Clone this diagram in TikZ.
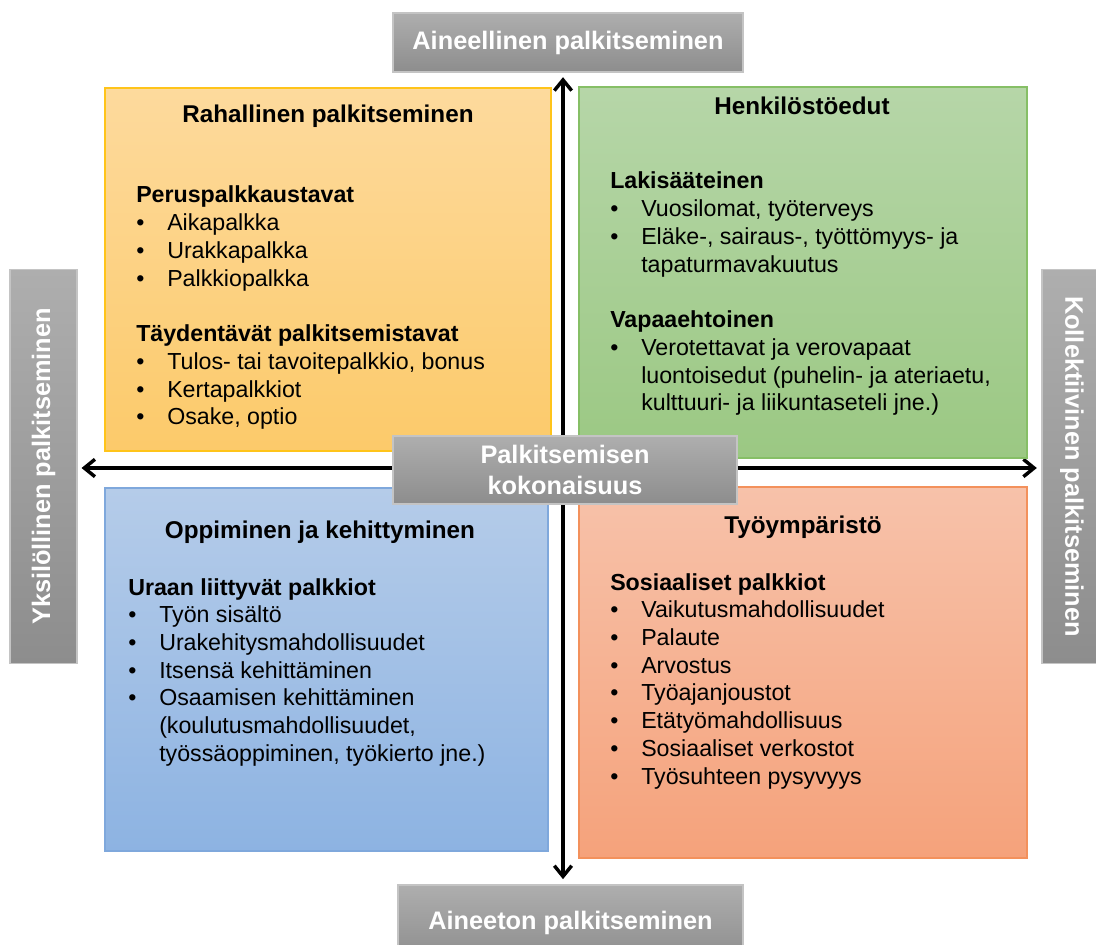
\documentclass[tikz,border=0pt]{standalone}
\usepackage{fontspec}
\setmainfont{Liberation Sans}
\usetikzlibrary{arrows.meta,fit}
\newdimen\pxu \pxu=0.75pt
\definecolor{orL}{HTML}{FDDA9D}
\definecolor{orD}{HTML}{FCCA6A}
\definecolor{orB}{HTML}{FFC41A}
\definecolor{grL}{HTML}{B6D6A8}
\definecolor{grD}{HTML}{9BC883}
\definecolor{grB}{HTML}{86BF66}
\definecolor{blL}{HTML}{B5CCE9}
\definecolor{blD}{HTML}{8DB3E2}
\definecolor{blB}{HTML}{7FA8DC}
\definecolor{rdL}{HTML}{F7C2AA}
\definecolor{rdD}{HTML}{F5A27B}
\definecolor{rdB}{HTML}{F3915C}
\definecolor{gyL}{HTML}{AEAEAE}
\definecolor{gyD}{HTML}{8D8D8D}
\definecolor{gyB}{HTML}{C4C4C4}
\newcommand\bitem[1]{\noindent\hangindent=23.25pt\hangafter=1\makebox[23.25pt][l]{•}#1\par}
\newcommand\gap{\vspace{20.8pt}}
\newcommand\bodyfont{\fontsize{17.4pt}{20.8pt}\selectfont}
\tikzset{
  quad/.style={rectangle, inner sep=0pt, line width=1.1pt},
  graybox/.style={rectangle, draw=gyB, line width=0.8pt, top color=gyL, bottom color=gyD,
    text=white, font=\fontsize{19pt}{23.25pt}\selectfont\bfseries, inner sep=0pt, align=center},
  qtitle/.style={anchor=base, inner sep=0pt, font=\fontsize{18.2pt}{21pt}\selectfont\bfseries},
  qbody/.style={anchor=base west, inner sep=0pt},
  arr/.style={line width=2.6pt, {Straight Barb[length=8pt,width=13pt]}-{Straight Barb[length=8pt,width=13pt]}}
}
\begin{document}
\begin{tikzpicture}[x=0.75pt,y=-0.75pt]
\useasboundingbox (0,0) rectangle (1096,945);
\clip (0,0) rectangle (1096,945);

% axis labels
\node[graybox, minimum width=350\pxu, minimum height=59\pxu] (top) at (568,42.5) {Aineellinen palkitseminen};
\node[graybox, minimum width=345\pxu, minimum height=76\pxu] (bot) at (570.5,923) {Aineeton palkitseminen};
\node[graybox, rotate=90, minimum width=394\pxu, minimum height=67\pxu] (left) at (43.5,466.5) {Yksilöllinen palkitseminen};
\node[graybox, rotate=-90, minimum width=394\pxu, minimum height=60\pxu] (right) at (1072,466.5) {Kollektiivinen palkitseminen};

\coordinate (ax) at (563,0);
\coordinate (ay) at (0,468);

% arrows
\draw[arr, shorten <=3.5pt, shorten >=4pt] (top.south -| ax) -- (bot.north -| ax);
\draw[arr, shorten <=3pt, shorten >=3.5pt] (left.south |- ay) -- (right.south |- ay);

% quadrants
\node[quad, fit={(105,88) (551,451)}, draw=orB, top color=orL, bottom color=orD] (raha) {};
\node[quad, fit={(579,87) (1027,458)}, draw=grB, top color=grL, bottom color=grD] (henk) {};
\node[quad, fit={(105,488) (548,851)}, draw=blB, top color=blL, bottom color=blD] (oppi) {};
\node[quad, fit={(579,487) (1027,858)}, draw=rdB, top color=rdL, bottom color=rdD] (tyo) {};

% titles
\node[qtitle] (rahat) at (328,123) {Rahallinen palkitseminen};
\node[qtitle] (henkt) at (802,115) {Henkilöstöedut};
\node[qtitle] (oppit) at (320,538) {Oppiminen ja kehittyminen};
\node[qtitle] (tyot) at (803,533) {Työympäristö};

% bodies
\node[qbody] (rahab) at (136,203) {\begin{minipage}[t]{420\pxu}\bodyfont
\textbf{Peruspalkkaustavat}\par
\bitem{Aikapalkka}
\bitem{Urakkapalkka}
\bitem{Palkkiopalkka}
\gap
\textbf{Täydentävät palkitsemistavat}\par
\bitem{Tulos- tai tavoitepalkkio, bonus}
\bitem{Kertapalkkiot}
\bitem{Osake, optio}
\end{minipage}};

\node[qbody] (henkb) at (610,189) {\begin{minipage}[t]{410\pxu}\bodyfont
\textbf{Lakisääteinen}\par
\bitem{Vuosilomat, työterveys}
\bitem{Eläke-, sairaus-, työttömyys- ja\\tapaturmavakuutus}
\gap
\textbf{Vapaaehtoinen}\par
\bitem{Verotettavat ja verovapaat\\luontoisedut (puhelin- ja ateriaetu,\\kulttuuri- ja liikuntaseteli jne.)}
\end{minipage}};

\node[qbody] (oppib) at (128,595) {\begin{minipage}[t]{410\pxu}\bodyfont
\textbf{Uraan liittyvät palkkiot}\par
\bitem{Työn sisältö}
\bitem{Urakehitysmahdollisuudet}
\bitem{Itsensä kehittäminen}
\bitem{Osaamisen kehittäminen\\(koulutusmahdollisuudet,\\työssäoppiminen, työkierto jne.)}
\end{minipage}};

\node[qbody] (tyob) at (610,590) {\begin{minipage}[t]{410\pxu}\bodyfont
\textbf{Sosiaaliset palkkiot}\par
\bitem{Vaikutusmahdollisuudet}
\bitem{Palaute}
\bitem{Arvostus}
\bitem{Työajanjoustot}
\bitem{Etätyömahdollisuus}
\bitem{Sosiaaliset verkostot}
\bitem{Työsuhteen pysyvyys}
\end{minipage}};

% centre
\node[graybox, minimum width=344\pxu, minimum height=68\pxu] (mid) at (565,470) {Palkitsemisen\\kokonaisuus};
\end{tikzpicture}
\end{document}
